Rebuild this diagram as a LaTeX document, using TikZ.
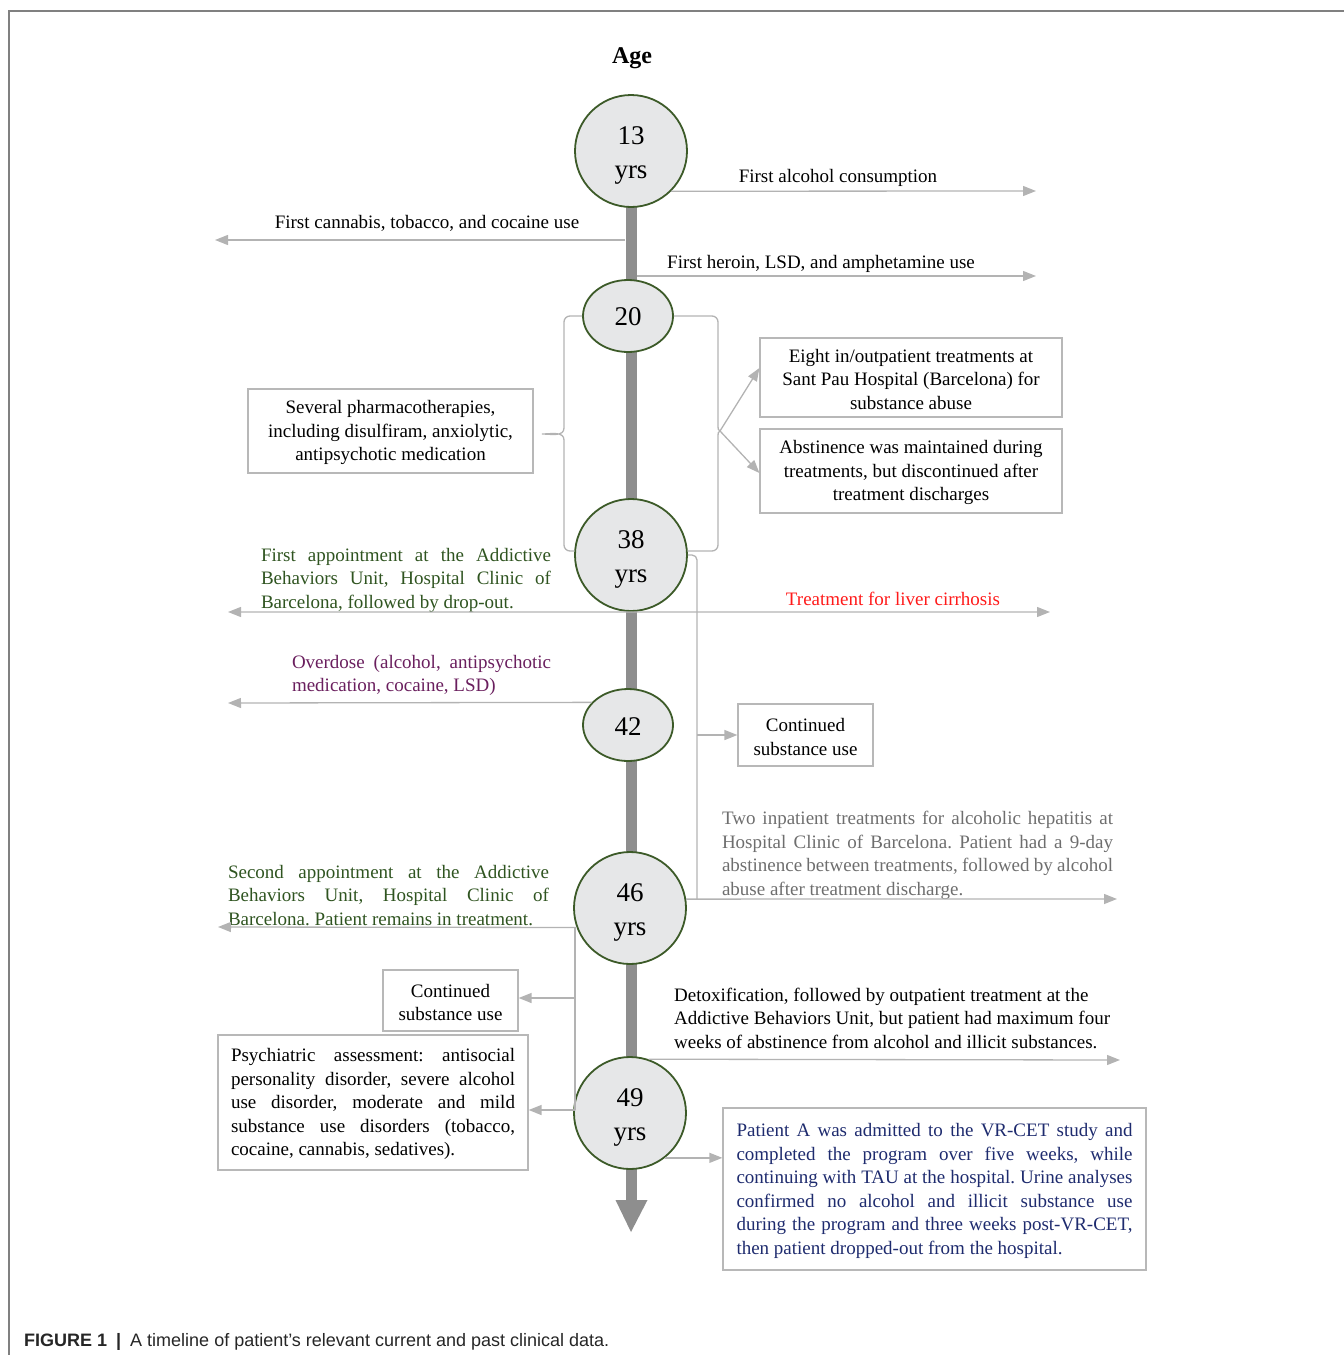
\documentclass[tikz,border=0pt]{standalone}
\usepackage{fontspec}
\setmainfont{Liberation Serif}
\newfontfamily\capfont{Liberation Sans}
\usepackage{graphicx}
\usetikzlibrary{shapes.geometric,arrows.meta,calc}

\definecolor{conncol}{HTML}{B3B3B3}
\definecolor{boxcol}{HTML}{B8B8B8}
\definecolor{framecol}{HTML}{808080}
\definecolor{barcol}{HTML}{8E8E8E}
\definecolor{circfill}{HTML}{E6E7E8}
\definecolor{circline}{HTML}{3C5A28}
\definecolor{txtgreen}{HTML}{2F5420}
\definecolor{txtpurple}{HTML}{6A1F5E}
\definecolor{txtred}{HTML}{FF1A1A}
\definecolor{txtgray}{HTML}{6E6E6E}
\definecolor{txtblue}{HTML}{1E2B6E}

\newcommand{\jline}[2]{\makebox[#1][s]{#2}}
\newcommand{\yrstrut}{\rule{0pt}{26pt}}
\frenchspacing

\begin{document}
\begin{tikzpicture}[x=1pt,y=-1pt,
  body/.style={font=\fontsize{19}{23.5}\selectfont, inner sep=0pt},
  one/.style={body, text height=13pt, text depth=4pt},
  conn/.style={draw=conncol, line width=1.3pt},
  arr/.style={conn, -{Triangle[length=13pt,width=10pt]}},
  tbox/.style={body, draw=boxcol, line width=1.2pt, rectangle, align=center},
  yrcirc/.style={circle, draw=circline, line width=1.8pt, fill=circfill,
    minimum size=112pt, inner sep=0pt, align=center,
    font=\fontsize{27}{34}\selectfont},
  yrell/.style={ellipse, draw=circline, line width=1.8pt, fill=circfill,
    minimum width=90pt, minimum height=72pt, inner sep=0pt,
    font=\fontsize{27}{34}\selectfont},
  barline/.style={draw=barcol, line width=11pt}
]
\path[use as bounding box] (0,0) rectangle (1344,1355);

% frame
\draw[framecol, line width=1.5pt] (9,1355) -- (9,11) -- (1344,11);

% timeline spine
\coordinate (tltop) at (631,200);
\coordinate (tlbar) at (631,1201);
\coordinate (tlend) at (631,1232);
\draw[barline] (tltop) -- (tlbar);
\fill[barcol] (615.5,1200) -- (647.5,1200) -- (tlend) -- cycle;

% title
\node[font=\fontsize{24}{28}\selectfont\bfseries] (age) at (632,58) {Age};

% year nodes
\node[yrcirc] (c13) at (631,151) {\yrstrut 13\\yrs};
\node[yrell]  (c20) at (628,316) {\rule{0pt}{20pt}20};
\node[yrcirc] (c38) at (631,555) {\yrstrut 38\\yrs};
\node[yrell]  (c42) at (628,725) {\rule{0pt}{20pt}42};
\node[yrcirc] (c46) at (630,908) {\yrstrut 46\\yrs};
\node[yrcirc] (c49) at (630,1113) {\yrstrut 49\\yrs};

% 13 -> 20 events
\node[one] (talc) at (838,178) {First alcohol consumption};
\node[one] (tcan) at (427,224) {First cannabis, tobacco, and cocaine use};
\node[one] (ther) at (821,264) {First heroin, LSD, and amphetamine use};
\coordinate (alcend) at (1036,191);
\coordinate (canst) at (625,240);
\coordinate (canend) at (215,240);
\coordinate (herst) at (637,276);
\coordinate (herend) at (1036,276);
\draw[arr] (c13.-45) -- (alcend);
\draw[arr] (canst) -- (canend);
\draw[arr] (herst) -- (herend);

% 20 -> 38 braces and boxes
\node[tbox, minimum width=285pt, minimum height=84pt] (pharm) at (390.5,431)
  {\rule{0pt}{17pt}Several pharmacotherapies,\\including disulfiram, anxiolytic,\\antipsychotic medication};
\node[tbox, minimum width=302pt, minimum height=79pt] (eight) at (911,377.5)
  {\rule{0pt}{17pt}Eight in/outpatient treatments at\\Sant Pau Hospital (Barcelona) for\\substance abuse};
\node[tbox, minimum width=302pt, minimum height=84pt] (abst) at (911,471)
  {\rule{0pt}{17pt}Abstinence was maintained during\\treatments, but discontinued after\\treatment discharges};

\coordinate (lbtip) at (542,434);
\coordinate (rbtip) at (720,431);
\draw[conn] (c20.west) -- (570,316) to[out=180,in=90] (564,322) -- (564,428)
  to[out=-90,in=0] (lbtip) to[out=0,in=90] (564,440) -- (564,545)
  to[out=-90,in=180] (570,551) -- (c38.176);
\draw[conn] (c20.east) -- (712,316) to[out=0,in=90] (718,322) -- (718,426)
  to[out=-90,in=180] (rbtip) to[out=180,in=90] (718,436) -- (718,545)
  to[out=-90,in=0] (712,551) -- (c38.4);
\draw[arr] (rbtip) -- ($(eight.west)+(0,-9.5)$);
\draw[arr] (rbtip) -- ($(abst.west)+(0,2)$);

% 38 events
\node[body, align=left, text=txtgreen] (tfirst) at (406,580)
  {\jline{290pt}{First appointment at the Addictive}\\
   \jline{290pt}{Behaviors Unit, Hospital Clinic of}\\
   Barcelona, followed by drop-out.};
\node[one, text=txtred] (tliver) at (893,601) {Treatment for liver cirrhosis};
\coordinate (firstend) at (228,612);
\coordinate (liverend) at (1050,612);
\draw[arr] (c38.south) -- (firstend);
\draw[arr] (c38.south) -- (liverend);

% right connector 38 -> 46
\node[tbox, minimum width=135pt, minimum height=62pt] (cont1) at (805.5,735)
  {\rule{0pt}{17pt}Continued\\substance use};
\coordinate (rv) at (697,899);
\coordinate (rvb) at (697,735);
\draw[conn, rounded corners=5pt] (c38.east) -| (rv);
\draw[arr] (rvb) -- (cont1.west);

% 42 event
\node[body, align=left, text=txtpurple] (tover) at (421.5,675.5)
  {\jline{259pt}{Overdose (alcohol, antipsychotic}\\
   medication, cocaine, LSD)};
\coordinate (overend) at (228,703);
\draw[arr] (c42.148) -- (overend);

% 46 events
\node[body, align=left, text=txtgray] (ttwo) at (917.5,855.5)
  {\jline{391pt}{Two inpatient treatments for alcoholic hepatitis at}\\
   \jline{391pt}{Hospital Clinic of Barcelona. Patient had a 9-day}\\
   \jline{391pt}{abstinence between treatments, followed by alcohol}\\
   abuse after treatment discharge.};
\coordinate (twoend) at (1117,899);
\draw[arr] (c46.9) -- (twoend);

\node[body, align=left, text=txtgreen] (tsecond) at (388.5,895.5)
  {\jline{321pt}{Second appointment at the Addictive}\\
   \jline{321pt}{Behaviors Unit, Hospital Clinic of}\\
   Barcelona. Patient remains in treatment.};
\coordinate (secend) at (218,927);
\draw[arr] (c46.200) -- (secend);

\node[tbox, minimum width=135pt, minimum height=61pt] (cont2) at (450.5,1000.5)
  {\rule{0pt}{17pt}Continued\\substance use};
\node[tbox, minimum width=310pt, minimum height=135pt, align=left] (psych) at (373,1102.5)
  {\jline{284pt}{\rule{0pt}{17pt}Psychiatric assessment: antisocial}\\
   \jline{284pt}{personality disorder, severe alcohol}\\
   \jline{284pt}{use disorder, moderate and mild}\\
   \jline{284pt}{substance use disorders (tobacco,}\\
   cocaine, cannabis, sedatives).};
\coordinate (lv) at (575,927);
\coordinate (lvc) at (575,998);
\coordinate (lvp) at (575,1110);
\draw[conn] (lv) -- (lvp);
\draw[arr] (lvc) -- (cont2.east |- lvc);
\draw[arr] (lvp) -- (psych.east |- lvp);

% 49 events
\node[body, align=left, anchor=west] (tdetox) at (674,1018)
  {Detoxification, followed by outpatient treatment at the\\
   Addictive Behaviors Unit, but patient had maximum four\\
   weeks of abstinence from alcohol and illicit substances.};
\coordinate (detend) at (1120,1060);
\draw[arr] (c49.71) -- (detend);

\node[tbox, minimum width=423pt, minimum height=162pt, align=left, text=txtblue] (pbox) at (934.5,1189)
  {\jline{396pt}{\rule{0pt}{17pt}Patient A was admitted to the VR-CET study and}\\
   \jline{396pt}{completed the program over five weeks, while}\\
   \jline{396pt}{continuing with TAU at the hospital. Urine analyses}\\
   \jline{396pt}{confirmed no alcohol and illicit substance use}\\
   \jline{396pt}{during the program and three weeks post-VR-CET,}\\
   then patient dropped-out from the hospital.};
\draw[arr] (c49.-52) -- (pbox.west |- c49.-52);

% caption
\node[anchor=west, inner sep=0pt, font=\capfont\fontsize{18}{20}\selectfont, text=black!85] (cap) at (24,1341.5)
  {\textbf{FIGURE 1\enspace|}\enspace A timeline of patient’s relevant current and past clinical data.};
\end{tikzpicture}
\end{document}
